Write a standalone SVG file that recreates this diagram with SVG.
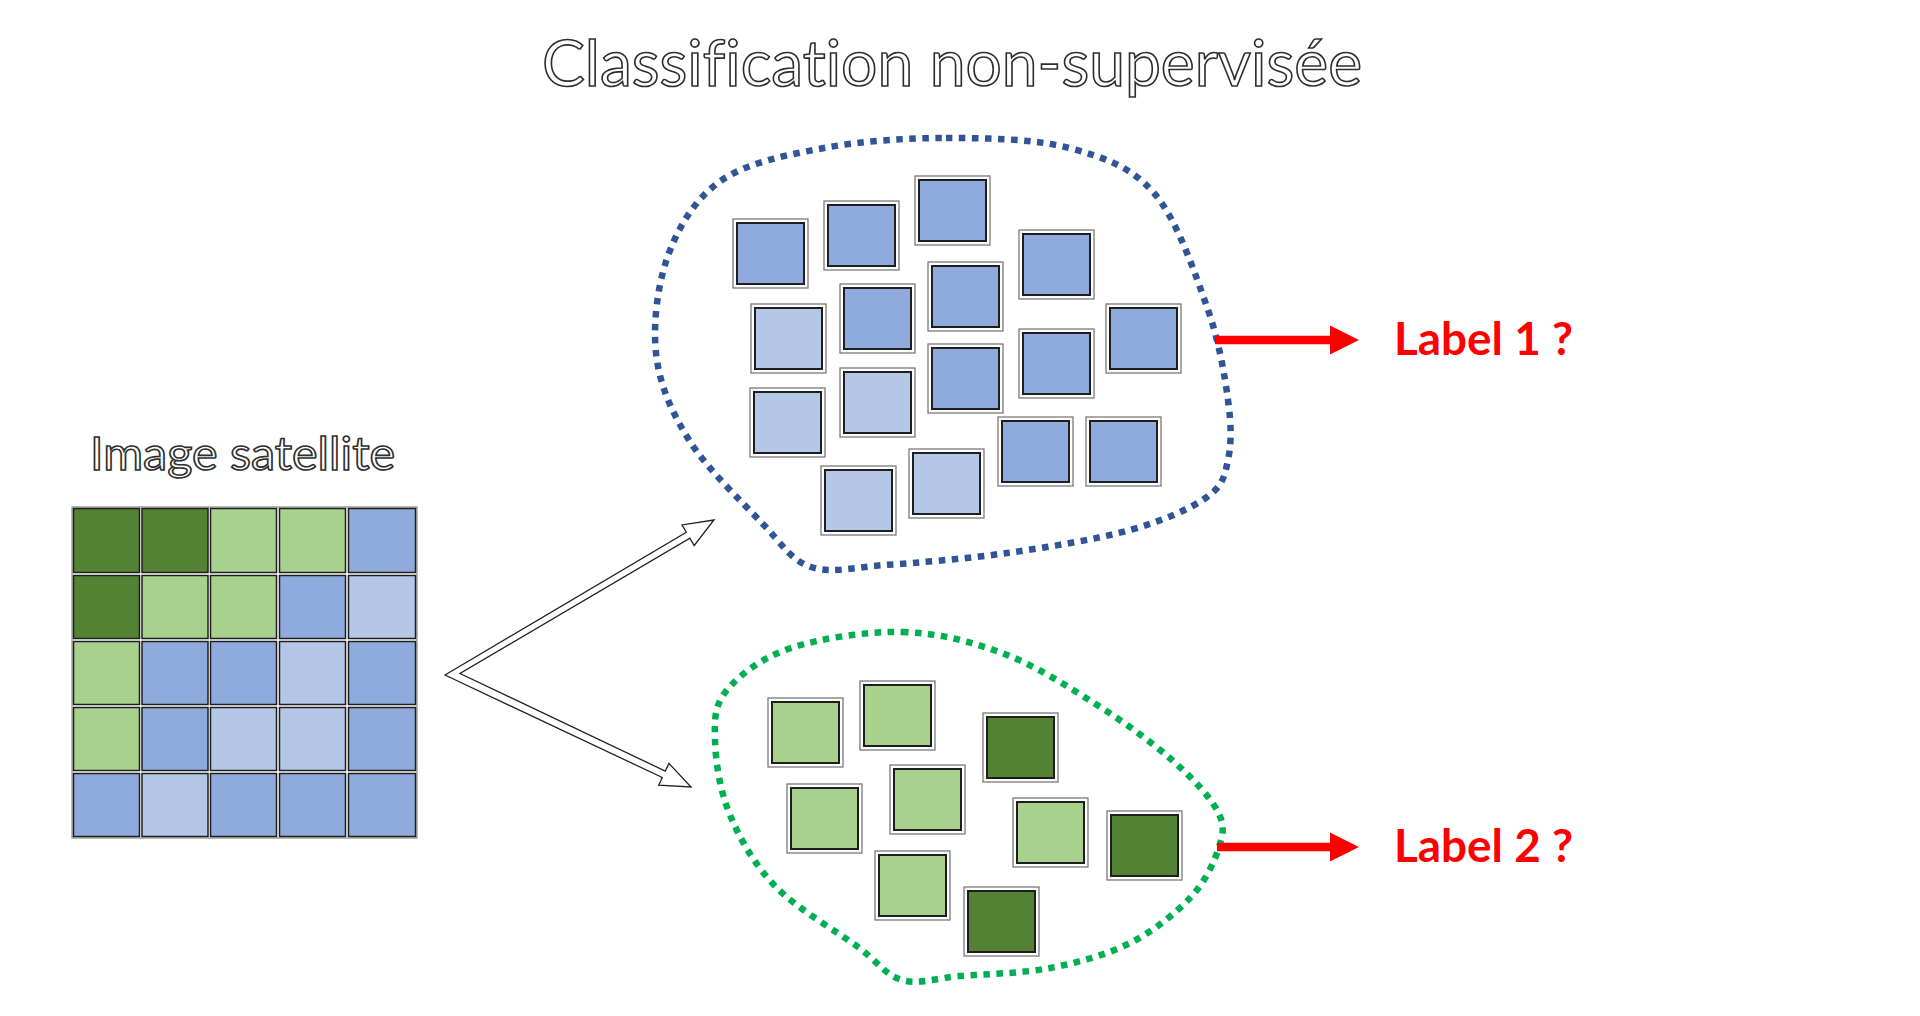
<svg xmlns="http://www.w3.org/2000/svg" width="1920" height="1016" viewBox="0 0 1920 1016">
<style>
.outline{font-family:Lato,"Open Sans","Liberation Sans",sans-serif;font-variant-ligatures:none;fill:#ffffff;stroke:#2e2e2e;stroke-width:1.6;}
.lbl{font-family:Lato,"Open Sans","Liberation Sans",sans-serif;font-weight:bold;fill:#ff0000;font-size:46px;}
.box{fill:#ffffff;stroke:#6e6e6e;stroke-width:1.2;}
.inB{fill:#8FAADC;stroke:#1e1e1e;stroke-width:2;}
.inLB{fill:#B4C7E7;stroke:#1e1e1e;stroke-width:2;}
.inLG{fill:#A9D18E;stroke:#1e1e1e;stroke-width:2;}
.inDG{fill:#548235;stroke:#1e1e1e;stroke-width:2;}
.cDG{fill:#548235;}
.cLG{fill:#A9D18E;}
.cB{fill:#8FAADC;}
.cLB{fill:#B4C7E7;}
.cell{stroke:#1e1e1e;stroke-width:1.5;}
.blobB{fill:none;stroke:#2F5597;stroke-width:6.5;stroke-dasharray:6.5 6.5;}
.blobG{fill:none;stroke:#00B050;stroke-width:6.5;stroke-dasharray:6.5 6.5;}
.hollow{fill:#ffffff;stroke:#222222;stroke-width:1.3;stroke-linejoin:miter;}
.red{fill:#ff0000;stroke:none;}
</style>
<defs>
<g id="sqB"><rect class="box" x="0" y="0" width="75" height="69"/><rect class="inB" x="4" y="4" width="67" height="61"/></g>
<g id="sqLB"><rect class="box" x="0" y="0" width="75" height="69"/><rect class="inLB" x="4" y="4" width="67" height="61"/></g>
<g id="sqLG"><rect class="box" x="0" y="0" width="75" height="69"/><rect class="inLG" x="4" y="4" width="67" height="61"/></g>
<g id="sqDG"><rect class="box" x="0" y="0" width="75" height="69"/><rect class="inDG" x="4" y="4" width="67" height="61"/></g>
</defs>
<rect x="0" y="0" width="1920" height="1016" fill="#ffffff"/>

<g id="title">
<text class="outline" x="542" y="86" font-size="63" textLength="820" lengthAdjust="spacingAndGlyphs">Classification non-supervisée</text>
</g>

<g id="image-satellite">
<text class="outline" x="90" y="470" font-size="46" textLength="305" lengthAdjust="spacingAndGlyphs">Image satellite</text>
<rect x="72" y="507" width="345" height="331" fill="#ffffff" stroke="#8a8a8a" stroke-width="1.2"/>
<g class="cell">
<rect class="cDG" x="73.5" y="508.5" width="66" height="64"/>
<rect class="cDG" x="142" y="508.5" width="66" height="64"/>
<rect class="cLG" x="210.5" y="508.5" width="66" height="64"/>
<rect class="cLG" x="279.5" y="508.5" width="66" height="64"/>
<rect class="cB" x="348.5" y="508.5" width="67" height="64"/>

<rect class="cDG" x="73.5" y="575.5" width="66" height="63"/>
<rect class="cLG" x="142" y="575.5" width="66" height="63"/>
<rect class="cLG" x="210.5" y="575.5" width="66" height="63"/>
<rect class="cB" x="279.5" y="575.5" width="66" height="63"/>
<rect class="cLB" x="348.5" y="575.5" width="67" height="63"/>

<rect class="cLG" x="73.5" y="641.5" width="66" height="63"/>
<rect class="cB" x="142" y="641.5" width="66" height="63"/>
<rect class="cB" x="210.5" y="641.5" width="66" height="63"/>
<rect class="cLB" x="279.5" y="641.5" width="66" height="63"/>
<rect class="cB" x="348.5" y="641.5" width="67" height="63"/>

<rect class="cLG" x="73.5" y="707.5" width="66" height="63"/>
<rect class="cB" x="142" y="707.5" width="66" height="63"/>
<rect class="cLB" x="210.5" y="707.5" width="66" height="63"/>
<rect class="cLB" x="279.5" y="707.5" width="66" height="63"/>
<rect class="cB" x="348.5" y="707.5" width="67" height="63"/>

<rect class="cB" x="73.5" y="773.5" width="66" height="63"/>
<rect class="cLB" x="142" y="773.5" width="66" height="63"/>
<rect class="cB" x="210.5" y="773.5" width="66" height="63"/>
<rect class="cB" x="279.5" y="773.5" width="66" height="63"/>
<rect class="cB" x="348.5" y="773.5" width="67" height="63"/>
</g>
</g>

<g id="cluster-1">
<path class="blobB" d="M946,138 C986.8,138 1034.3,138.8 1069,148 C1103.7,157.2 1131,166.5 1154,193 C1177,219.5 1194.7,272.5 1207,307 C1219.3,341.5 1224.5,374.5 1228,400 C1231.5,425.5 1231.5,443.8 1228,460 C1224.5,476.2 1223.3,485.3 1207,497 C1190.7,508.7 1163.3,520.7 1130,530 C1096.7,539.3 1047.8,547.2 1007,553 C966.2,558.8 917.7,562.7 885,565 C852.3,567.3 831.5,574 811,567 C790.5,560 782.3,544.2 762,523 C741.7,501.8 706.7,468.3 689,440 C671.3,411.7 659.3,384.2 656,353 C652.7,321.8 658,281.8 669,253 C680,224.2 696.2,197.5 722,180 C747.8,162.5 786.7,155 824,148 C861.3,141 905.2,138 946,138 Z"/>
<use href="#sqB" x="733" y="219"/>
<use href="#sqB" x="824" y="201"/>
<use href="#sqB" x="915" y="176"/>
<use href="#sqB" x="1019" y="230"/>
<use href="#sqB" x="928" y="262"/>
<use href="#sqB" x="840" y="284"/>
<use href="#sqLB" x="751" y="304"/>
<use href="#sqB" x="1106" y="304"/>
<use href="#sqB" x="1019" y="329"/>
<use href="#sqB" x="928" y="344"/>
<use href="#sqLB" x="840" y="368"/>
<use href="#sqLB" x="750" y="388"/>
<use href="#sqB" x="998" y="417"/>
<use href="#sqB" x="1086" y="417"/>
<use href="#sqLB" x="909" y="449"/>
<use href="#sqLB" x="821" y="466"/>
</g>

<g id="cluster-2">
<path class="blobG" d="M902,632 C937.2,632.8 970,641.2 1002,653 C1034,664.8 1065.7,685.2 1094,703 C1122.3,720.8 1151.3,741.8 1172,760 C1192.7,778.2 1210.3,797 1218,812 C1225.7,827 1222.7,835.7 1218,850 C1213.3,864.3 1204.7,882.5 1190,898 C1175.3,913.5 1153.3,931.3 1130,943 C1106.7,954.7 1078.3,962.5 1050,968 C1021.7,973.5 984.7,974 960,976 C935.3,978 919,984.8 902,980 C885,975.2 879,962.5 858,947 C837,931.5 797.3,909 776,887 C754.7,865 740.2,839.5 730,815 C719.8,790.5 715.5,760.8 715,740 C714.5,719.2 714.3,705.3 727,690 C739.7,674.7 761.8,657.7 791,648 C820.2,638.3 866.8,631.2 902,632 Z"/>
<use href="#sqLG" x="768" y="698"/>
<use href="#sqLG" x="860" y="681"/>
<use href="#sqDG" x="983" y="713"/>
<use href="#sqLG" x="787" y="784"/>
<use href="#sqLG" x="890" y="765"/>
<use href="#sqLG" x="1013" y="798"/>
<use href="#sqDG" x="1107" y="811"/>
<use href="#sqLG" x="875" y="851"/>
<use href="#sqDG" x="964" y="887"/>
</g>

<g id="label-1">
<text class="lbl" x="1394" y="355" textLength="179" lengthAdjust="spacingAndGlyphs">Label 1 ?</text>
</g>
<g id="label-2">
<text class="lbl" x="1394" y="862" textLength="179" lengthAdjust="spacingAndGlyphs">Label 2 ?</text>
</g>

<g id="connectors">
<polygon class="hollow" points="445,675 686.3,532.2 682,524.9 714,520 694.2,545.5 689.9,538.2 460,673.5 665.3,771.1 668.9,763.4 691,787 658.7,785.2 662.3,777.5"/>
<path class="red" d="M1215,335.8 H1330 V325.5 L1359,340 L1330,354.5 V344.2 H1215 Z"/>
<path class="red" d="M1217,842.8 H1330 V832.5 L1359,847 L1330,861.5 V851.2 H1217 Z"/>
</g>
</svg>
